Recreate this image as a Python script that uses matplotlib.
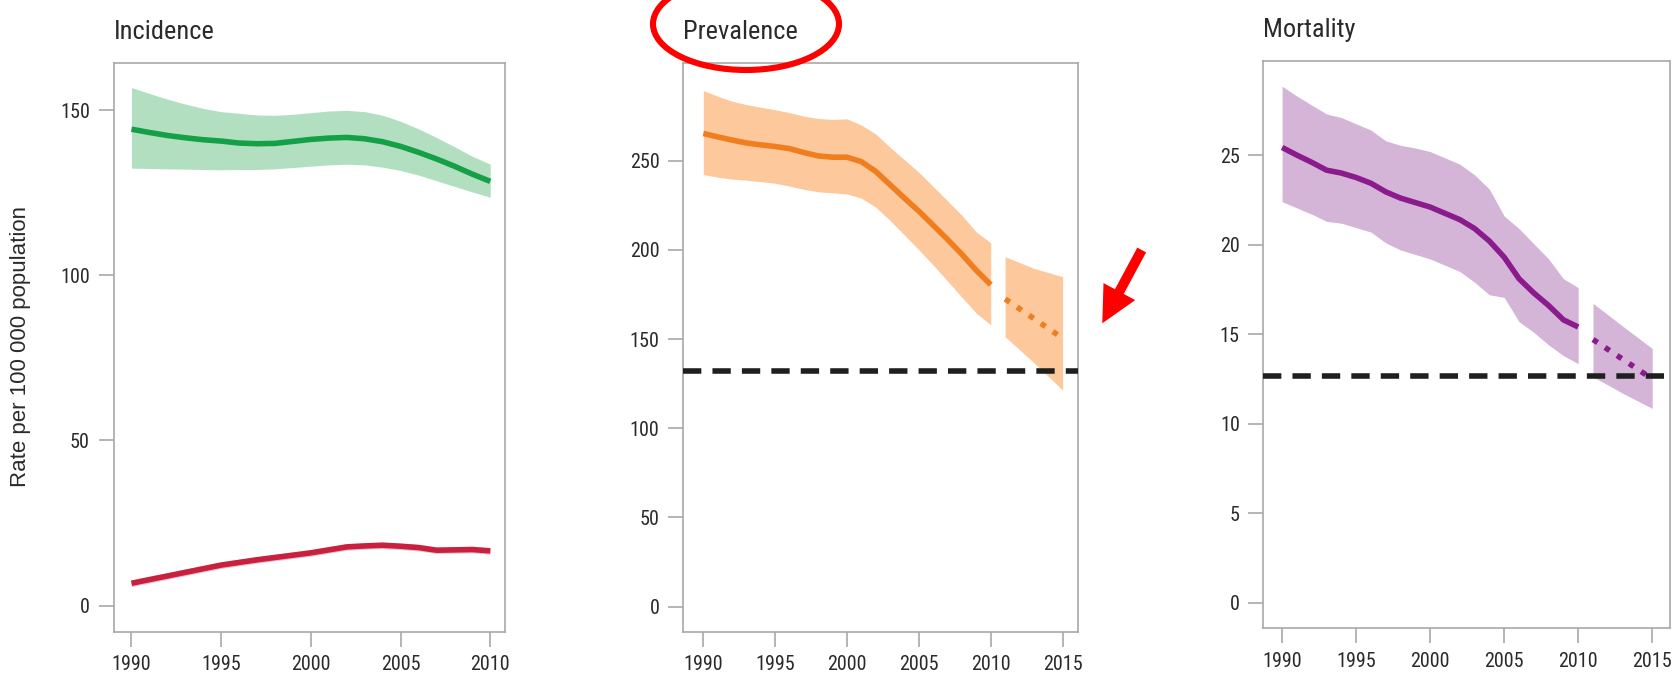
import matplotlib
matplotlib.use("Agg")
import matplotlib.pyplot as plt
from matplotlib.patches import Ellipse, FancyArrow

# ---- data -------------------------------------------------------------
years = list(range(1990, 2011))

# Incidence (rate per 100 000)
inc_all = [144.2, 143.2, 142.3, 141.6, 141.0, 140.6, 140.0, 139.8, 139.9, 140.5, 141.1,
           141.5, 141.7, 141.3, 140.4, 139.0, 137.2, 135.2, 133.0, 130.6, 128.4]
inc_all_hi = [156.8, 155.0, 153.3, 151.8, 150.5, 149.5, 149.0, 148.5, 148.4, 148.7, 149.2,
              149.7, 149.9, 149.5, 148.4, 146.6, 144.3, 141.7, 138.9, 136.0, 133.6]
inc_all_lo = [132.4, 132.3, 132.2, 132.1, 132.0, 131.9, 132.0, 132.0, 132.2, 132.6, 133.0,
              133.4, 133.6, 133.4, 132.7, 131.7, 130.3, 128.6, 126.9, 125.2, 123.6]
inc_hiv = [6.8, 7.9, 9.0, 10.1, 11.2, 12.3, 13.1, 13.9, 14.6, 15.3, 16.0,
           16.9, 17.8, 18.1, 18.3, 18.0, 17.6, 16.8, 16.9, 17.0, 16.6]

# Prevalence (rate per 100 000)
prev = [265.3, 263.4, 261.6, 260.0, 258.9, 258.0, 256.8, 254.6, 252.7, 252.0, 252.0,
        249.5, 244.0, 236.5, 229.0, 221.7, 213.8, 205.8, 197.5, 188.5, 180.5]
prev_hi = [289.4, 286.2, 283.4, 281.5, 280.0, 278.6, 277.0, 275.0, 273.7, 273.2, 273.5,
           270.0, 265.0, 257.5, 250.5, 243.5, 235.5, 227.5, 219.3, 210.0, 204.0]
prev_lo = [242.3, 240.8, 239.7, 239.1, 238.3, 237.4, 235.8, 234.0, 232.6, 232.0, 231.4,
           229.0, 224.0, 216.5, 208.3, 200.0, 191.5, 182.5, 173.4, 164.5, 158.0]
proj_years = [2011, 2013, 2015]
prev_proj = [172.5, 161.5, 150.5]
prev_proj_hi = [196.2, 189.7, 185.0]
prev_proj_lo = [151.3, 136.8, 121.4]
prev_target = 132.0

# Mortality (rate per 100 000)
mort = [25.43, 25.0, 24.6, 24.16, 24.0, 23.75, 23.43, 22.95, 22.6, 22.35, 22.1,
        21.75, 21.4, 20.9, 20.2, 19.3, 18.1, 17.3, 16.6, 15.8, 15.4]
mort_hi = [28.85, 28.3, 27.8, 27.3, 27.1, 26.75, 26.4, 25.8, 25.55, 25.4, 25.2,
           24.85, 24.5, 23.9, 23.1, 21.6, 20.9, 20.05, 19.2, 18.1, 17.6]
mort_lo = [22.4, 22.05, 21.7, 21.3, 21.2, 20.95, 20.7, 20.1, 19.7, 19.45, 19.2,
           18.85, 18.5, 17.9, 17.2, 17.05, 15.7, 15.1, 14.4, 13.8, 13.35]
mort_proj = [14.7, 13.6, 12.5]
mort_proj_hi = [16.72, 15.45, 14.2]
mort_proj_lo = [12.62, 11.7, 10.85]
mort_target = 12.65

titles = ["Incidence", "Prevalence", "Mortality"]
ylabel = "Rate per 100 000 population"
xticks_short = [1990, 1995, 2000, 2005, 2010]
xticks_long = [1990, 1995, 2000, 2005, 2010, 2015]
yticks_inc = [0, 50, 100, 150]
yticks_prev = [0, 50, 100, 150, 200, 250]
yticks_mort = [0, 5, 10, 15, 20, 25]

# ---- styling ----------------------------------------------------------
plt.rcParams["font.family"] = ["Roboto Condensed", "Liberation Sans", "DejaVu Sans"]

GREEN, GREEN_BAND = "#13a046", "#b3dfc1"
RED, RED_BAND = "#c8203e", "#eec3ca"
ORANGE, ORANGE_BAND = "#f07d1e", "#fcc89c"
PURPLE, PURPLE_BAND = "#8b1b8d", "#d4b5d7"
SPINE = "#a8a8a8"
TEXT = "#2a2a2a"

W, H = 1677, 676
fig = plt.figure(figsize=(W / 100, H / 100), dpi=100)

ax1 = fig.add_axes([0.0677, 0.0658, 0.2332, 0.8404])
ax2 = fig.add_axes([0.4074, 0.0658, 0.2354, 0.8404])
ax3 = fig.add_axes([0.7534, 0.0710, 0.2424, 0.8385])


def style(ax, title, xticks, yticks, xlim, ylim):
    ax.set_xlim(*xlim)
    ax.set_ylim(*ylim)
    ax.set_xticks(xticks)
    ax.set_yticks(yticks)
    for s in ax.spines.values():
        s.set_color(SPINE)
        s.set_linewidth(1.2)
    ax.tick_params(axis="both", colors=SPINE, labelcolor=TEXT, length=11, width=1.2,
                   labelsize=14.5, pad=6)
    ax.text(0.0, 1.043, title, transform=ax.transAxes, ha="left", va="baseline",
            fontsize=19, color=TEXT)


LW = 4.0

# Incidence
ax1.fill_between(years, inc_all_lo, inc_all_hi, color=GREEN_BAND, lw=0)
ax1.plot(years, inc_all, color=GREEN, lw=LW, solid_capstyle="butt")
ax1.fill_between(years, [v - 1.0 for v in inc_hiv], [v + 1.0 for v in inc_hiv],
                 color=RED_BAND, lw=0)
ax1.plot(years, inc_hiv, color=RED, lw=LW, solid_capstyle="butt")
style(ax1, titles[0], xticks_short, yticks_inc, (1989.0, 2010.8), (-7.8, 164.1))

# Prevalence
ax2.fill_between(years, prev_lo, prev_hi, color=ORANGE_BAND, lw=0)
ax2.plot(years, prev, color=ORANGE, lw=LW, solid_capstyle="butt")
ax2.fill_between(proj_years, prev_proj_lo, prev_proj_hi, color=ORANGE_BAND, lw=0)
ax2.plot(proj_years, prev_proj, color=ORANGE, lw=LW, linestyle=(0, (1.0, 1.6)))
ax2.axhline(prev_target, xmin=0, xmax=1, color="#1f1f1f", lw=4.0,
            linestyle=(0, (3.3, 2.0)), dash_capstyle="butt", zorder=5)
style(ax2, titles[1], xticks_long, yticks_prev, (1988.6, 2016.07), (-14, 304.6))

# Mortality
ax3.fill_between(years, mort_lo, mort_hi, color=PURPLE_BAND, lw=0)
ax3.plot(years, mort, color=PURPLE, lw=LW, solid_capstyle="butt")
ax3.fill_between(proj_years, mort_proj_lo, mort_proj_hi, color=PURPLE_BAND, lw=0)
ax3.plot(proj_years, mort_proj, color=PURPLE, lw=LW, linestyle=(0, (1.0, 1.6)))
ax3.axhline(mort_target, xmin=0, xmax=0.985, color="#1f1f1f", lw=4.0,
            linestyle=(0, (3.3, 2.0)), dash_capstyle="butt", zorder=5)
style(ax3, titles[2], xticks_long, yticks_mort, (1988.74, 2016.2), (-1.42, 30.25))

# shared y-axis label
fig.text(21 / W, 0.488, ylabel, rotation=90, ha="center", va="center",
         fontsize=16, color=TEXT, family=["Liberation Sans", "DejaVu Sans"])

# red highlight around the Prevalence title
ring = Ellipse((746 / W, 1 - 24 / H), 186 / W, 92 / H, transform=fig.transFigure,
               fill=False, edgecolor="#ff0000", lw=4.4, clip_on=False, zorder=10)
fig.add_artist(ring)

# red arrow pointing at the prevalence projection
tail = (1141.7 / 100, (H - 250) / 100)
tip = (1102.3 / 100, (H - 323.3) / 100)
arrow = FancyArrow(tail[0], tail[1], tip[0] - tail[0], tip[1] - tail[1],
                   width=0.10, head_width=0.36, head_length=0.36,
                   length_includes_head=True, color="#ff0000", lw=0,
                   transform=fig.dpi_scale_trans, zorder=10)
fig.add_artist(arrow)

fig.savefig("out.png", dpi=100)
